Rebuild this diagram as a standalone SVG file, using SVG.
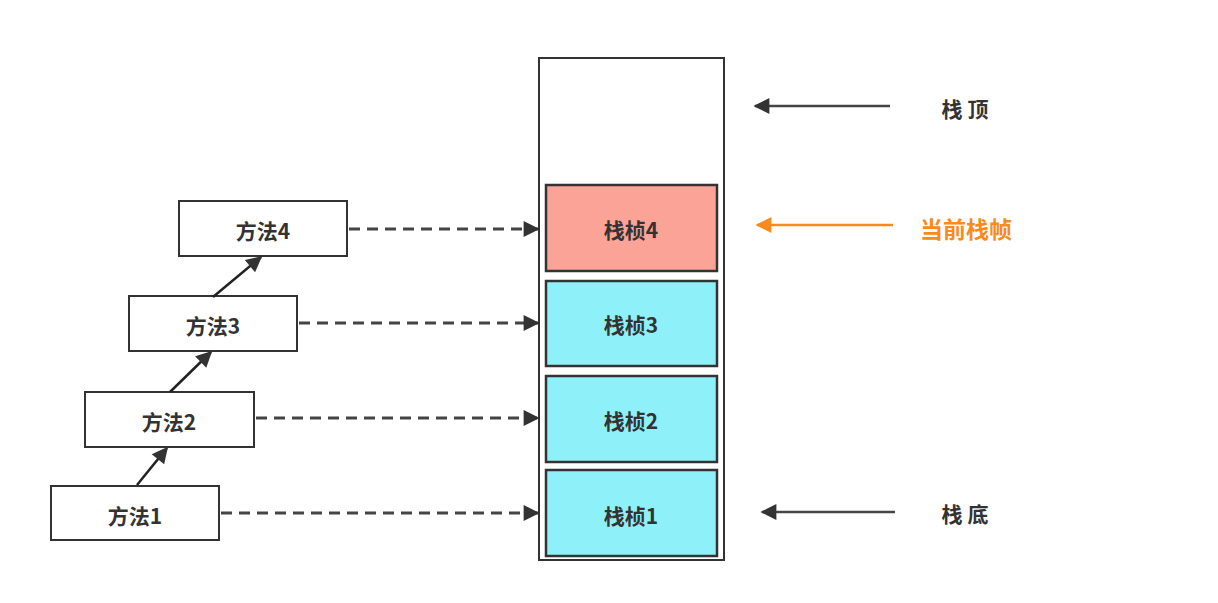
<svg xmlns="http://www.w3.org/2000/svg" width="1218" height="603" viewBox="0 0 1218 603">
<style>
.box{fill:#fff;stroke:#333;stroke-width:2}
.frame{stroke:#333;stroke-width:2.5}
.t{font-family:"Noto Sans CJK SC","Noto Sans",sans-serif;font-size:21px;font-weight:bold;fill:#333;text-anchor:middle;dominant-baseline:central}
.dash{stroke:#444;stroke-width:3;stroke-dasharray:11,7;fill:none}
.solid{stroke:#222;stroke-width:2.5;fill:none}
</style>
<defs>
<marker id="ahl" viewBox="0 0 10 10" refX="9" refY="5" markerWidth="22" markerHeight="16" markerUnits="userSpaceOnUse" orient="auto"><path d="M0,0 L10,5 L0,10 z" fill="#333"/></marker>
<marker id="aho" viewBox="0 0 10 10" refX="9" refY="5" markerWidth="22" markerHeight="16" markerUnits="userSpaceOnUse" orient="auto"><path d="M0,0 L10,5 L0,10 z" fill="#f98a1c"/></marker>
</defs>
<g id="stack"><rect x="539" y="58" width="185" height="502" class="box"/></g>
<g id="frame4"><rect x="546" y="185" width="171" height="86" class="frame" fill="#fca397"/><text x="631" y="229" class="t">栈桢4</text></g>
<g id="frame3"><rect x="546" y="281" width="171" height="85" class="frame" fill="#8ef1f9"/><text x="631" y="324" class="t">栈桢3</text></g>
<g id="frame2"><rect x="546" y="376" width="171" height="86" class="frame" fill="#8ef1f9"/><text x="631" y="420" class="t">栈桢2</text></g>
<g id="frame1"><rect x="546" y="470" width="171" height="86" class="frame" fill="#8ef1f9"/><text x="631" y="515" class="t">栈桢1</text></g>
<g id="m4"><rect x="179" y="201" width="168" height="55" class="box"/><text x="263" y="230" class="t">方法4</text></g>
<g id="m3"><rect x="129" y="296" width="168" height="55" class="box"/><text x="213" y="325" class="t">方法3</text></g>
<g id="m2"><rect x="85" y="392" width="169" height="55" class="box"/><text x="169" y="421" class="t">方法2</text></g>
<g id="m1"><rect x="51" y="486" width="168" height="54" class="box"/><text x="135" y="515" class="t">方法1</text></g>
<g id="labels">
<text x="965" y="108" class="t">栈 顶</text>
<text x="966" y="228" class="t" style="fill:#f98a1c;font-size:23px">当前栈帧</text>
<text x="965" y="513" class="t">栈 底</text>
</g>
<g id="connectors">
<line x1="349" y1="229" x2="538" y2="229" class="dash" marker-end="url(#ahl)"/>
<line x1="299" y1="323" x2="538" y2="323" class="dash" marker-end="url(#ahl)"/>
<line x1="256" y1="418" x2="538" y2="418" class="dash" marker-end="url(#ahl)"/>
<line x1="221" y1="513" x2="538" y2="513" class="dash" marker-end="url(#ahl)"/>
<line x1="137" y1="485" x2="167" y2="448" class="solid" marker-end="url(#ahl)"/>
<line x1="170" y1="392" x2="211" y2="352" class="solid" marker-end="url(#ahl)"/>
<line x1="213" y1="297" x2="261" y2="257" class="solid" marker-end="url(#ahl)"/>
<line x1="890" y1="106" x2="755" y2="106" class="solid" style="stroke:#444" marker-end="url(#ahl)"/>
<line x1="893" y1="225" x2="757" y2="225" class="solid" style="stroke:#f98a1c" marker-end="url(#aho)"/>
<line x1="895" y1="512" x2="762" y2="512" class="solid" style="stroke:#444" marker-end="url(#ahl)"/>
</g>
</svg>
